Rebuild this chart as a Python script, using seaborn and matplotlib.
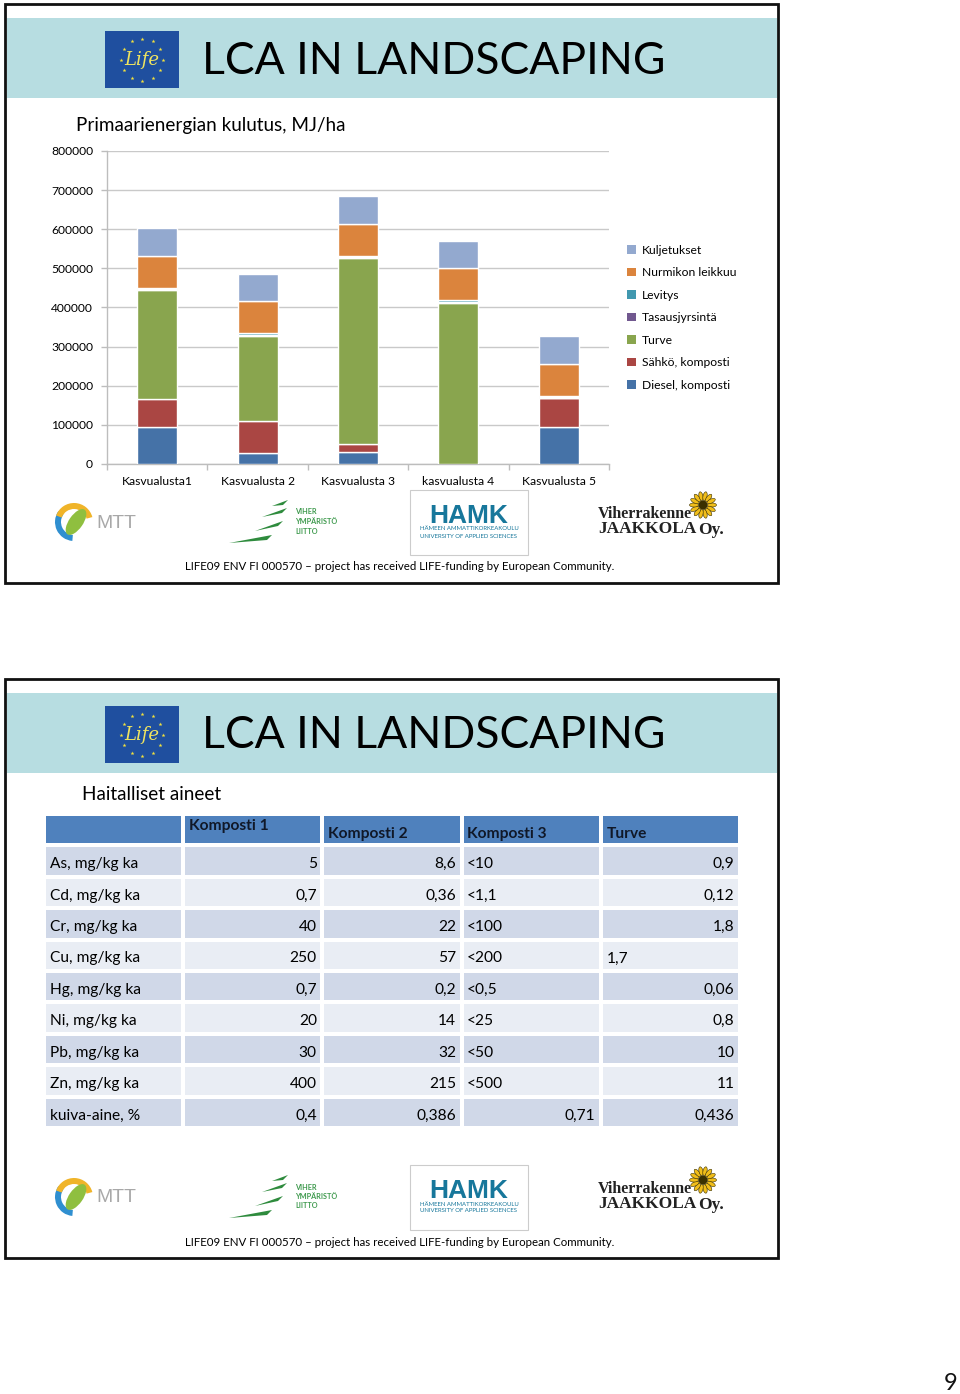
import numpy as np
import matplotlib
matplotlib.use("Agg")
import matplotlib.pyplot as plt
from matplotlib.colors import ListedColormap
from matplotlib.patches import Rectangle, Wedge, Ellipse, Polygon, Patch
import seaborn as sns

# chart data
categories = ["Kasvualusta1", "Kasvualusta 2", "Kasvualusta 3", "kasvualusta 4", "Kasvualusta 5"]
diesel = [95000, 27000, 30000, 0, 95000]
sahko = [72000, 83000, 21000, 0, 74000]
turve = [279000, 218000, 476000, 412000, 0]
tasaus = [1500, 2500, 2000, 2500, 1500]
levitys = [2500, 3500, 2500, 3500, 2500]
nurmikko = [81000, 82000, 82000, 82000, 82000]
kuljetus = [71000, 69000, 71000, 71000, 71000]
series_names = ["Diesel, komposti", "Sähkö, komposti", "Turve", "Tasausjyrsintä",
                "Levitys", "Nurmikon leikkuu", "Kuljetukset"]
series_colors = ["#4572a7", "#aa4643", "#89a54e", "#71588f", "#4198af", "#db843d", "#93a9cf"]
y_ticks = [0, 100000, 200000, 300000, 400000, 500000, 600000, 700000, 800000]

# table data
table_head = ["", "Komposti 1", "Komposti 2", "Komposti 3", "Turve"]
row_names = ["As, mg/kg ka", "Cd, mg/kg ka", "Cr, mg/kg ka", "Cu, mg/kg ka", "Hg, mg/kg ka",
             "Ni, mg/kg ka", "Pb, mg/kg ka", "Zn, mg/kg ka", "kuiva-aine, %"]
komposti1 = ["5", "0,7", "40", "250", "0,7", "20", "30", "400", "0,4"]
komposti2 = ["8,6", "0,36", "22", "57", "0,2", "14", "32", "215", "0,386"]
komposti3 = ["<10", "<1,1", "<100", "<200", "<0,5", "<25", "<50", "<500", "0,71"]
turve_col = ["0,9", "0,12", "1,8", "1,7", "0,06", "0,8", "10", "11", "0,436"]
left_cells = {(3, 3)}  # Turve / Cu sits on the left in the original

W, H = 960, 1394
sns.set_theme(style="white")
plt.rcParams["font.family"] = ["Lato", "DejaVu Sans"]

fig = plt.figure(figsize=(W / 100, H / 100), dpi=100, facecolor="white")

# full page axes in pixel coordinates for the slide furniture
bg = fig.add_axes([0, 0, 1, 1])
bg.set_xlim(0, W)
bg.set_ylim(H, 0)
bg.axis("off")


def axes_px(x0, y0, x1, y1):
    return fig.add_axes([x0 / W, 1 - y1 / H, (x1 - x0) / W, (y1 - y0) / H])


def draw_logos(dy):
    # Life flag
    bg.add_patch(Rectangle((105, 31 + dy), 74, 57, fc="#1f4f9f", ec="none"))
    ang = np.linspace(0, 2 * np.pi, 12, endpoint=False)
    bg.scatter(142 + 21 * np.cos(ang), 59.5 + dy + 21 * np.sin(ang), s=9, marker="*", color="#f4e23c", lw=0)
    bg.text(142, 60 + dy, "Life", color="#f0e460", fontsize=13, style="italic", ha="center", va="center",
            family="DejaVu Serif")

    # MTT
    bg.add_patch(Wedge((74, 522 + dy), 19, 95, 215, width=6, fc="#2f8fd0", ec="none"))
    bg.add_patch(Wedge((74, 522 + dy), 19, 200, 345, width=6, fc="#f0b429", ec="none"))
    bg.add_patch(Ellipse((76, 522 + dy), 14, 30, angle=35, fc="#8fbf3f", ec="none"))
    bg.text(96, 523 + dy, "MTT", color="#a8a8a8", fontsize=14, va="center", ha="left", family="Liberation Sans")

    # Viherympäristöliitto
    for x0, y0, x1, y1 in [(229, 543, 272, 535), (255, 531, 283, 521), (262, 517, 287, 508), (272, 506, 288, 500)]:
        bg.add_patch(Polygon([(x0, y0 + dy), (x1, y1 + dy), (x1 - 5, y1 + 5 + dy)], fc="#2e8b3d", ec="none"))
    for i, word in enumerate(["VIHER", "YMPÄRISTÖ", "LIITTO"]):
        bg.text(295, 512 + i * 9.5 + dy, word, color="#3f9a4e", fontsize=5.2, weight="bold", va="center")

    # HAMK
    bg.add_patch(Rectangle((410, 490 + dy), 118, 65, fc="white", ec="#cccccc", lw=0.8))
    bg.text(469, 516 + dy, "HAMK", color="#17779b", fontsize=19, weight="black", ha="center", va="center",
            family="Liberation Sans")
    bg.text(469, 529 + dy, "HÄMEEN AMMATTIKORKEAKOULU", color="#17779b", fontsize=4.3, ha="center", va="center")
    bg.text(469, 536 + dy, "UNIVERSITY OF APPLIED SCIENCES", color="#17779b", fontsize=4.3, ha="center", va="center")

    # Jaakkola
    for a in np.linspace(0, 2 * np.pi, 14, endpoint=False):
        bg.add_patch(Ellipse((703 + 9 * np.cos(a), 505 + dy + 9 * np.sin(a)), 9, 4, angle=np.degrees(a),
                             fc="#f0bd1a", ec="#3a3000", lw=0.4))
    bg.add_patch(Ellipse((703, 505 + dy), 9, 9, fc="#3a3000", ec="none"))
    bg.text(598, 514 + dy, "Viherrakenne", color="#222222", fontsize=11.5, weight="bold", family="Liberation Serif",
            va="center")
    bg.text(598, 529 + dy, "JAAKKOLA", color="#222222", fontsize=12.5, weight="bold", family="Liberation Serif",
            va="center")
    bg.text(698, 530 + dy, "Oy.", color="#222222", fontsize=12.5, weight="bold", family="Liberation Serif",
            va="center")


def draw_slide(dy):
    bg.add_patch(Rectangle((7, 18 + dy), 770, 79.5, fc="#b7dde1", ec="none", zorder=0))
    bg.add_patch(Rectangle((5, 4 + dy), 773, 579, fc="none", ec="#111111", lw=2))
    bg.text(202, 61 + dy, "LCA IN LANDSCAPING", fontsize=32, color="black", va="center", ha="left")
    bg.text(400, 567 + dy, "LIFE09 ENV FI 000570 – project has received LIFE-funding by European Community.",
            fontsize=8.3, color="black", ha="center", va="center")
    draw_logos(dy)


draw_slide(0)
draw_slide(675)

bg.text(76, 126, "Primaarienergian kulutus, MJ/ha", fontsize=13.6, va="center", color="black")
bg.text(82, 795, "Haitalliset aineet", fontsize=13.6, va="center", color="black")
bg.text(951, 1384, "9", fontsize=17, ha="center", va="center", color="#111111")

# stacked bars
ax = axes_px(107, 151, 609, 464)
ax.patch.set_alpha(0)
bottom = np.zeros(len(categories))
all_series = [diesel, sahko, turve, tasaus, levitys, nurmikko, kuljetus]
for vals, color in zip(all_series, series_colors):
    sns.barplot(x=categories, y=vals, bottom=bottom, color=color, saturation=1, width=0.4, ax=ax, zorder=3)
    bottom = bottom + np.array(vals)

ax.set_xlim(-0.5, 4.5)
ax.set_ylim(0, 800000)
ax.set_yticks(y_ticks)
ax.set_yticklabels([str(t) for t in y_ticks])
ax.grid(axis="y", color="#c9c9c9", lw=1)
ax.grid(axis="x", visible=False)
ax.set_axisbelow(True)
ax.set_xticks(np.arange(-0.5, 5), minor=True)
ax.tick_params(axis="x", which="major", length=0, pad=9, labelsize=8.7, labelcolor="black")
ax.tick_params(axis="x", which="minor", bottom=True, length=4, width=1, color="#bdbdbd")
ax.tick_params(axis="y", left=True, length=4, width=1, color="#bdbdbd", pad=6, labelsize=8.7, labelcolor="black")
sns.despine(ax=ax)
for side in ["left", "bottom"]:
    ax.spines[side].set_color("#bdbdbd")
    ax.spines[side].set_linewidth(1)

handles = [Patch(fc=c, ec="none", label=n) for c, n in zip(series_colors, series_names)][::-1]
ax.legend(handles=handles, loc="upper left", bbox_to_anchor=(622 / W, 1 - 240 / H), bbox_transform=fig.transFigure,
          frameon=False, fontsize=8.7, handlelength=0.72, handleheight=0.72, handletextpad=0.5,
          labelspacing=0.95, borderpad=0.4, borderaxespad=0, labelcolor="black")

# table: stripes through heatmap, text placed per cell
stripes = np.array([[0] * 5] + [[1 + i % 2] * 5 for i in range(len(row_names))])
tab = axes_px(44, 814, 740, 1128)
sns.heatmap(stripes, cmap=ListedColormap(["#4f81bd", "#d0d8e8", "#e9edf4"]), vmin=0, vmax=2, cbar=False,
            linewidths=1.5, linecolor="white", ax=tab, xticklabels=False, yticklabels=False)
tab.tick_params(length=0)

cell_fs = 11.2
for j, name in enumerate(table_head):
    if name:
        # first header sits higher than the others in the original
        tab.text(j + 0.04, 0.38 if j == 1 else 0.64, name, fontsize=cell_fs, weight="bold", color="#101828",
                 va="center", ha="left")

columns = [komposti1, komposti2, komposti3, turve_col]
for i, name in enumerate(row_names):
    tab.text(0.04, i + 1.6, name, fontsize=cell_fs, va="center", ha="left", color="black")
    for j, col in enumerate(columns):
        val = col[i]
        if val.startswith("<") or (i, j) in left_cells:
            tab.text(j + 1.04, i + 1.6, val, fontsize=cell_fs, va="center", ha="left", color="black")
        else:
            tab.text(j + 1.96, i + 1.6, val, fontsize=cell_fs, va="center", ha="right", color="black")

fig.savefig("out.png", dpi=100)
